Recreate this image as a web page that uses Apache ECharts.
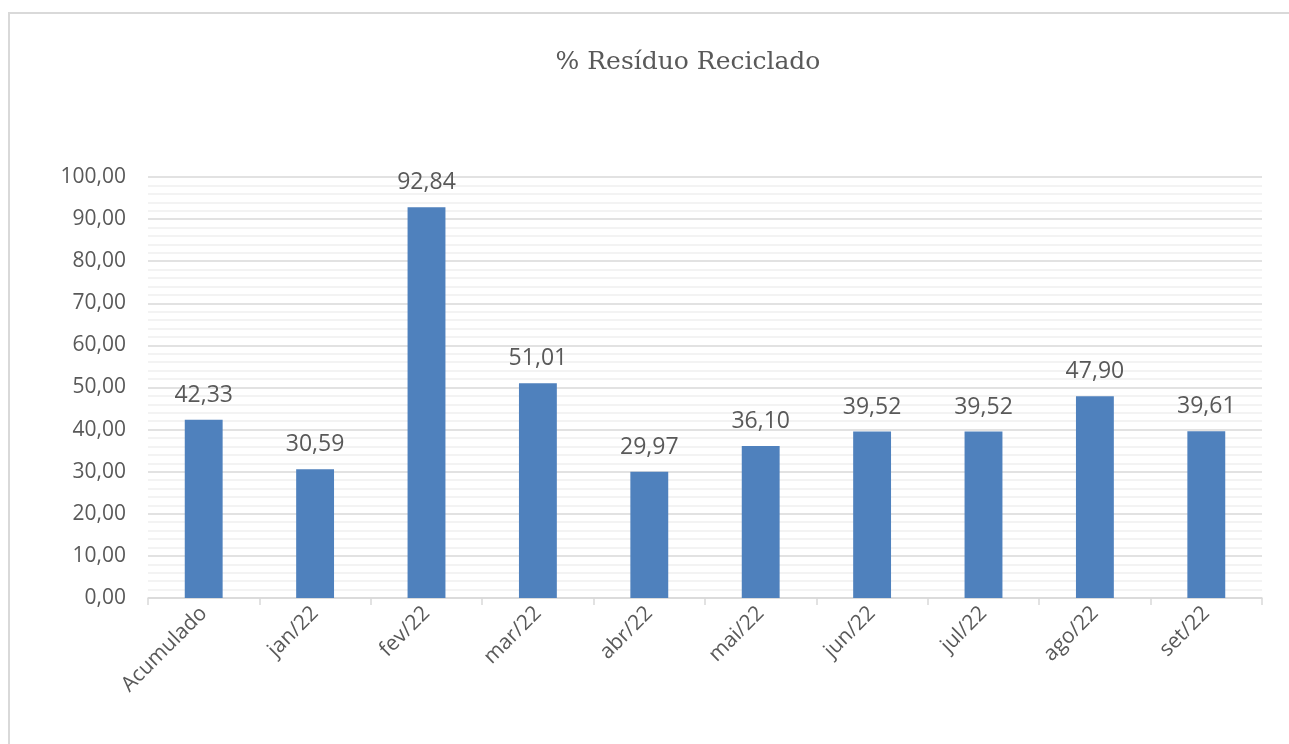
<!DOCTYPE html>
<html><head><meta charset="utf-8">
<script src="https://cdn.jsdelivr.net/npm/echarts@6/dist/echarts.min.js"></script>
<style>html,body{margin:0;padding:0;background:#fff}#c{width:1289px;height:744px}</style>
</head><body><div id="c"></div>
<script>
const categories = ['Acumulado','jan/22','fev/22','mar/22','abr/22','mai/22','jun/22','jul/22','ago/22','set/22'];
const values = [42.33, 30.59, 92.84, 51.01, 29.97, 36.10, 39.52, 39.52, 47.90, 39.61];
const titleText = '% Resíduo Reciclado';
const fmt = v => v.toFixed(2).replace('.', ',');

const chart = echarts.init(document.getElementById('c'), null, {renderer:'canvas'});
chart.setOption({
  animation:false,
  backgroundColor:'#fff',
  graphic:[{type:'rect', shape:{x:9, y:13, width:1400, height:900}, style:{fill:'none', stroke:'#d9d9d9', lineWidth:2}, silent:true}],
  title:{text:titleText, left:683, textAlign:'center', top:45, textStyle:{fontFamily:'DejaVu Serif', fontWeight:'normal', fontSize:25, color:'#595959'}},
  grid:{left:148, right:27, top:177, bottom:146, containLabel:false},
  xAxis:{type:'category', data:categories,
    axisLine:{lineStyle:{color:'#d9d9d9', width:1.5}},
    axisTick:{show:true, alignWithLabel:false, length:7, lineStyle:{color:'#d9d9d9', width:1.5}},
    axisLabel:{rotate:45, color:'#595959', fontFamily:'Open Sans', fontSize:21, margin:12, interval:0}},
  yAxis:{type:'value', min:0, max:100, interval:10,
    axisLine:{show:false}, axisTick:{show:false},
    axisLabel:{formatter:v=>fmt(v), color:'#595959', fontFamily:'Open Sans', fontSize:21, margin:22},
    splitLine:{lineStyle:{color:'#d9d9d9', width:1.5}},
    minorTick:{show:false, splitNumber:5},
    minorSplitLine:{show:true, lineStyle:{color:'#efefef', width:1.5}}},
  series:[{type:'bar', data:values, barWidth:'34%', itemStyle:{color:'#4f81bd'},
    label:{show:true, position:'top', distance:13, formatter:p=>fmt(p.value), color:'#595959', fontFamily:'Open Sans', fontSize:23}}]
});
</script></body></html>
